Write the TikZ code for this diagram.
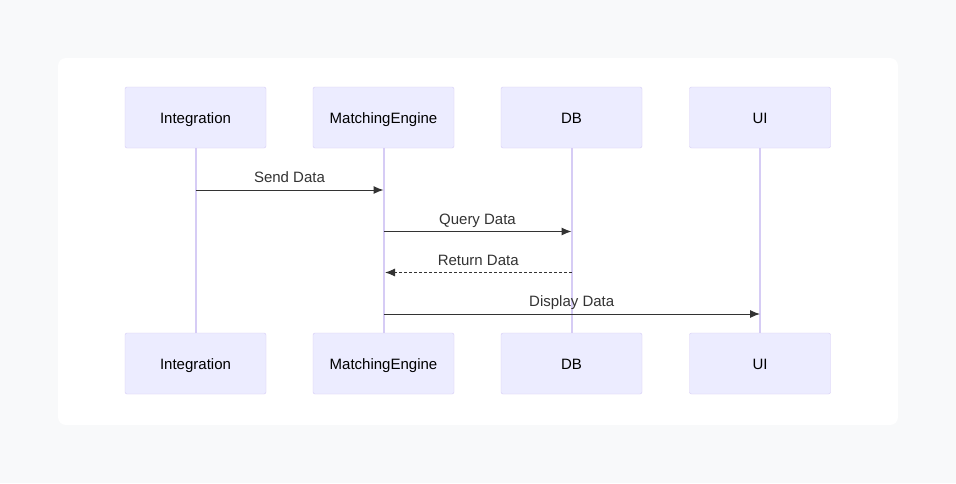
\documentclass[tikz,border=0pt]{standalone}
\usepackage{fontspec}
\setmainfont{Liberation Sans}
\usetikzlibrary{arrows.meta, calc}
\definecolor{mybg}{RGB}{248, 249, 250}
\definecolor{myactor}{RGB}{236, 236, 255}
\definecolor{myborder}{RGB}{214, 204, 245}
\definecolor{mytext}{RGB}{51, 51, 51}
\tikzset{>={Latex[length=10pt, width=8pt]}}

\begin{document}
\begin{tikzpicture}[x = 1pt, y = -1pt,
  actor/.style = {draw = myborder, fill = myactor, rounded corners = 2pt, minimum width = 141pt, minimum height = 61pt, text height = 11pt, text depth = 0pt, font = \fontsize{15}{18}\selectfont, text = black},
  msg/.style = {->, line width = 1pt, draw = mytext},
  msglabel/.style = {above = 3pt, inner sep = 4pt, text height = 11pt, text depth = 0pt, font = \fontsize{15}{18}\selectfont, text = mytext}]
\fill[mybg] (0, 0) rectangle (956, 483);
\fill[white, rounded corners = 8pt] (58, 58) rectangle (898, 425);
% actors and lifelines
\foreach \x/\name/\txt in {195.5/int/Integration, 383.5/eng/MatchingEngine, 571.5/db/DB, 760/ui/UI} {
  \node[actor] (\name-top) at (\x, 117.5) {\txt};
  \node[actor] (\name-bot) at (\x, 363.5) {\txt};
  \draw[myborder, line width = 2pt] (\name-top) -- (\name-bot);
}
% message ends
\coordinate (int-1) at (int-top |- 0, 190);
\coordinate (eng-1) at (eng-top |- 0, 190);
\coordinate (eng-2) at (eng-top |- 0, 231.5);
\coordinate (db-2) at (db-top |- 0, 231.5);
\coordinate (db-3) at (db-top |- 0, 272.5);
\coordinate (eng-3) at ($(eng-top |- 0, 272.5) + (1.5, 0)$);
\coordinate (eng-4) at (eng-top |- 0, 314);
\coordinate (ui-4) at (ui-top |- 0, 314);
% messages
\draw[msg] (int-1) -- node[msglabel] {Send Data} (eng-1);
\draw[msg] (eng-2) -- node[msglabel] {Query Data} (db-2);
\draw[msg, dash pattern = on 3pt off 2pt] (db-3) -- node[msglabel] {Return Data} (eng-3);
\draw[msg] (eng-4) -- node[msglabel] {Display Data} (ui-4);
\end{tikzpicture}
\end{document}
